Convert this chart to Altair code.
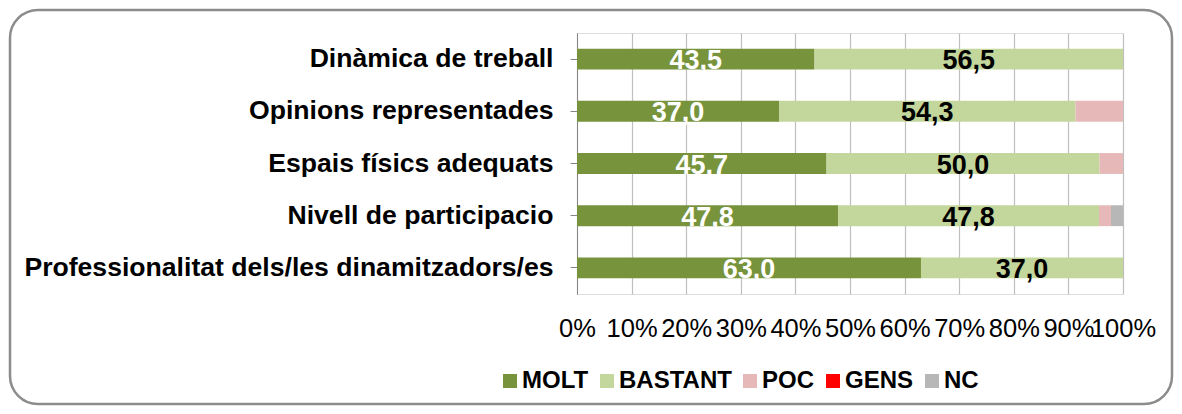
import altair as alt
import pandas as pd

categories = [
    "Dinàmica de treball",
    "Opinions representades",
    "Espais físics adequats",
    "Nivell de participacio",
    "Professionalitat dels/les dinamitzadors/es",
]
levels = ["MOLT", "BASTANT", "POC", "GENS", "NC"]
colors = ["#77933C", "#C3D69B", "#E6B9B8", "#FF0000", "#B7B7B7"]

molt = [43.5, 37.0, 45.7, 47.8, 63.0]
bastant = [56.5, 54.3, 50.0, 47.8, 37.0]
poc = [0.0, 8.7, 4.3, 2.2, 0.0]
gens = [0.0, 0.0, 0.0, 0.0, 0.0]
nc = [0.0, 0.0, 0.0, 2.2, 0.0]

series = [molt, bastant, poc, gens, nc]
rows = []
for li, (lev, vals) in enumerate(zip(levels, series)):
    for c, v in zip(categories, vals):
        rows.append({"cat": c, "level": lev, "order": li, "value": v})
df = pd.DataFrame(rows)

FONT = "Liberation Sans, Arial, sans-serif"

base = alt.Chart(df).transform_stack(
    stack="value", groupby=["cat"], as_=["x0", "x1"],
    sort=[alt.SortField("order", order="ascending")]
)

yenc = alt.Y(
    "cat:N", sort=categories, title=None,
    scale=alt.Scale(paddingInner=0.6, paddingOuter=0.3),
    axis=alt.Axis(
        labelFont=FONT, labelFontSize=26.6, labelFontWeight="bold", labelColor="#000000",
        labelPadding=17, labelLimit=700, domainColor="#868686", tickColor="#868686",
        tickSize=7, grid=False,
    ),
)

xscale = alt.Scale(domain=[0, 100], nice=False)

bars = base.mark_bar(stroke=None).encode(
    x=alt.X(
        "x0:Q", scale=xscale, title=None,
        axis=alt.Axis(
            values=list(range(0, 101, 10)), labelExpr="datum.value + '%'",
            labelFont=FONT, labelFontSize=25.5, labelColor="#000000",
            labelOverlap=False, labelFlush=False, labelBound=False,
            labelPadding=22, domain=False, ticks=False,
            grid=True, gridColor="#BFBFBF", gridWidth=1.2,
        ),
    ),
    x2="x1:Q",
    y=yenc,
    color=alt.Color(
        "level:N",
        scale=alt.Scale(domain=levels, range=colors),
        legend=alt.Legend(
            title=None, orient="none", direction="horizontal",
            legendX=-79, legendY=336, symbolType="square", symbolSize=196,
            symbolStrokeWidth=0, labelFont=FONT, labelFontSize=24,
            labelFontWeight="bold", labelColor="#000000", labelOffset=0,
            columnPadding=6, padding=0,
        ),
    ),
)

labels = base.transform_filter(
    "datum.order < 2"
).transform_calculate(
    mid="(datum.x0 + datum.x1) / 2",
    lab="replace(format(datum.value, '.1f'), '.', ',')",
).mark_text(font=FONT, fontSize=27, fontWeight="bold", baseline="middle", dy=2).encode(
    x=alt.X("mid:Q", scale=xscale),
    y=alt.Y("cat:N", sort=categories),
    text="lab:N",
    color=alt.Color("level:N", scale=alt.Scale(domain=["MOLT", "BASTANT"], range=["#FFFFFF", "#000000"]), legend=None),
)

border = alt.Chart(pd.DataFrame({"a": [0]})).mark_rect(
    fill="transparent", stroke="#8C8C8C", strokeWidth=2.5, cornerRadius=28
).encode(
    x=alt.value(-567), x2=alt.value(595), y=alt.value(-23), y2=alt.value(371)
)

chart = alt.layer(border, bars, labels).resolve_scale(color="independent").properties(
    width=546, height=261,
    autosize=alt.AutoSizeParams(type="none"),
    padding={"left": 569, "top": 25, "right": 51, "bottom": 112},
).configure_view(stroke=None).configure(background="#FFFFFF")

chart.save("out.html", embed_options={"renderer": "svg", "actions": False})
